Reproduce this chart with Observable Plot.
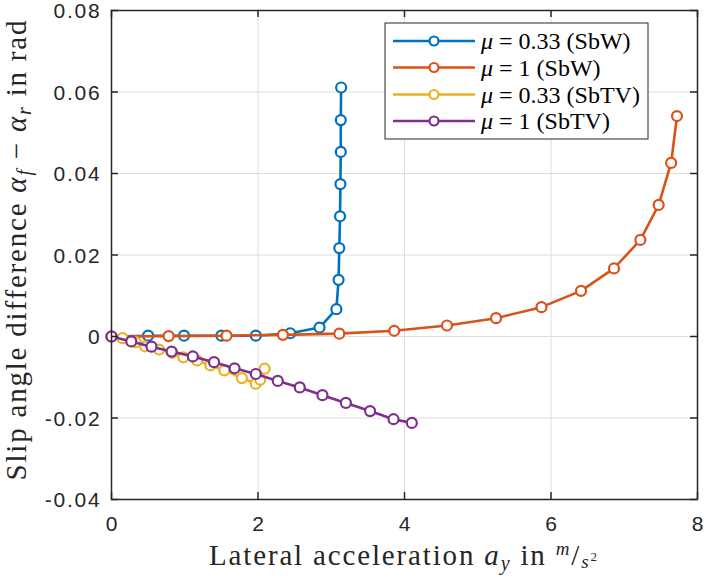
<!DOCTYPE html>
<html><head><meta charset="utf-8">
<script src="https://cdn.jsdelivr.net/npm/d3@7"></script>
<script src="https://cdn.jsdelivr.net/npm/@observablehq/plot@0.6"></script>
<style>
body{margin:0;background:#fff}
#chart{position:relative;width:704px;height:579px}
svg text.serif, svg text.serif tspan{font-family:"Liberation Serif","Times New Roman",serif !important}
svg g[aria-label="x-axis tick label"] text, svg g[aria-label="y-axis tick label"] text{letter-spacing:1.8px}
</style>
</head><body><div id="chart"></div>
<script>
// ---- data ----
const seriesLabels = ["0.33 (SbW)", "1 (SbW)", "0.33 (SbTV)", "1 (SbTV)"];
const seriesColors = ["#0072BD", "#D95319", "#EDB120", "#7E2F8E"];

const sbw033X = [0, 0.50, 0.99, 1.50, 1.97, 2.44, 2.84, 3.07, 3.10, 3.11, 3.12, 3.125, 3.13, 3.13, 3.135];
const sbw033Y = [0, 0.0002, 0.0002, 0.0002, 0.0002, 0.0008, 0.0022, 0.0067, 0.0139, 0.0217, 0.0295, 0.0374, 0.0453, 0.0531, 0.0611];

const sbw1X = [0, 0.78, 1.57, 2.34, 3.11, 3.86, 4.58, 5.25, 5.87, 6.41, 6.86, 7.22, 7.47, 7.64, 7.72];
const sbw1Y = [0, 0.0001, 0.0002, 0.0004, 0.0007, 0.0014, 0.0027, 0.0045, 0.0072, 0.0112, 0.0167, 0.0237, 0.0323, 0.0426, 0.0541];

const sbtv033X = [0, 0.15, 0.33, 0.46, 0.65, 0.83, 0.98, 1.17, 1.35, 1.54, 1.78, 1.97, 2.03, 2.09];
const sbtv033Y = [0, -0.0004, -0.0014, -0.0024, -0.0032, -0.0040, -0.0051, -0.0059, -0.0071, -0.0083, -0.0102, -0.0116, -0.0106, -0.0079];

const sbtv1X = [0, 0.27, 0.546, 0.82, 1.11, 1.40, 1.68, 1.97, 2.27, 2.57, 2.88, 3.20, 3.53, 3.85, 4.10];
const sbtv1Y = [0, -0.0012, -0.0025, -0.0037, -0.0049, -0.0063, -0.0078, -0.0092, -0.0109, -0.0125, -0.0144, -0.0163, -0.0183, -0.0203, -0.0212];

const xTicks = [0, 2, 4, 6, 8];
const yTicks = [-0.04, -0.02, 0, 0.02, 0.04, 0.06, 0.08];
const yTickLabels = ["-0.04", "-0.02", "0", "0.02", "0.04", "0.06", "0.08"];

// ---- build ----
const seriesX = [sbw033X, sbw1X, sbtv033X, sbtv1X];
const seriesY = [sbw033Y, sbw1Y, sbtv033Y, sbtv1Y];
const series = seriesX.map((xs, i) => xs.map((x, j) => ({x, y: seriesY[i][j], s: i})));

const W = 704, H = 579, mL = 111, mR = 7, mT = 10, mB = 80;
const innerH = H - mT - mB, innerW = W - mL - mR;
const tickLen = 7;
const axisColor = "#262626";
const lineW = 2.6, dotR = 5, dotSW = 2.2;

const marks = [
  Plot.gridX(xTicks, {stroke: "#dedede", strokeOpacity: 1, strokeWidth: 1}),
  Plot.gridY(yTicks, {stroke: "#dedede", strokeOpacity: 1, strokeWidth: 1}),
];
series.forEach((rows, i) => {
  marks.push(Plot.line(rows, {x: "x", y: "y", stroke: seriesColors[i], strokeWidth: lineW}));
  marks.push(Plot.dot(rows, {x: "x", y: "y", r: dotR, stroke: seriesColors[i], strokeWidth: dotSW, fill: "white"}));
});
marks.push(
  Plot.tickX(xTicks, {x: d => d, insetTop: innerH - tickLen, stroke: axisColor, strokeWidth: 1.5}),
  Plot.tickX(xTicks, {x: d => d, insetBottom: innerH - tickLen, stroke: axisColor, strokeWidth: 1.5}),
  Plot.tickY(yTicks, {y: d => d, insetRight: innerW - tickLen, stroke: axisColor, strokeWidth: 1.5}),
  Plot.tickY(yTicks, {y: d => d, insetLeft: innerW - tickLen, stroke: axisColor, strokeWidth: 1.5}),
  Plot.frame({stroke: axisColor, strokeWidth: 1.5}),
  Plot.axisX(xTicks, {tickSize: 0, tickPadding: 17, label: null, fill: axisColor, dx: 1}),
  Plot.axisY(yTicks, {tickSize: 0, tickPadding: 10, label: null, fill: axisColor, dy: 1,
    tickFormat: d => yTickLabels[yTicks.indexOf(d)]})
);

const chart = Plot.plot({
  width: W, height: H,
  marginLeft: mL, marginRight: mR, marginTop: mT, marginBottom: mB,
  x: {domain: [0, 8]},
  y: {domain: [-0.04, 0.08]},
  style: {fontFamily: "'Liberation Sans', Arial, sans-serif", fontSize: "21px", color: axisColor, background: "white"},
  marks
});
document.getElementById("chart").appendChild(chart);

// ---- labels & legend (rich text) ----
const svg = d3.select(chart);
const serif = "Liberation Serif, Times New Roman, serif";
function styled(sel, size) {
  return sel.attr("class", "serif").attr("font-family", serif).style("font-size", size + "px");
}

// x label
const xl = styled(svg.append("text"), 29)
  .attr("x", mL + innerW / 2 - 1).attr("y", 565)
  .attr("textLength", 388).attr("lengthAdjust", "spacing")
  .style("text-anchor", "middle").attr("fill", axisColor);
xl.append("tspan").text("Lateral acceleration ");
xl.append("tspan").style("font-style", "italic").text("a");
xl.append("tspan").style("font-style", "italic").style("font-size", "20px").attr("dy", 5).text("y");
xl.append("tspan").attr("dy", -5).text(" in ");
xl.append("tspan").style("font-style", "italic").style("font-size", "19px").attr("dy", -10).text("m");
xl.append("tspan").attr("dy", 10).text("/");
xl.append("tspan").style("font-style", "italic").style("font-size", "19px").attr("dy", 3).text("s");
xl.append("tspan").style("font-size", "13px").attr("dy", -7).text("2");

// y label
const yl = styled(svg.append("text"), 29)
  .attr("transform", `translate(26,${mT + innerH / 2 - 4}) rotate(-90)`)
  .attr("textLength", 460).attr("lengthAdjust", "spacing")
  .style("text-anchor", "middle").attr("fill", axisColor);
yl.append("tspan").text("Slip angle difference ");
yl.append("tspan").style("font-style", "italic").text("α");
yl.append("tspan").style("font-style", "italic").style("font-size", "20px").attr("dy", 5).text("f");
yl.append("tspan").attr("dy", -5).text(" − ");
yl.append("tspan").style("font-style", "italic").text("α");
yl.append("tspan").style("font-style", "italic").style("font-size", "20px").attr("dy", 5).text("r");
yl.append("tspan").attr("dy", -5).text(" in rad");

// legend
const lg = svg.append("g");
const lx = 385, ly = 23, lw = 263, lh = 116;
lg.append("rect").attr("x", lx).attr("y", ly).attr("width", lw).attr("height", lh)
  .attr("fill", "white").attr("stroke", axisColor).attr("stroke-width", 1);
const rowY = [41, 67.5, 94.5, 121];
seriesLabels.forEach((lab, i) => {
  const y = rowY[i];
  lg.append("line").attr("x1", 393).attr("x2", 475).attr("y1", y).attr("y2", y)
    .attr("stroke", seriesColors[i]).attr("stroke-width", lineW);
  lg.append("circle").attr("cx", 434).attr("cy", y).attr("r", dotR - 0.5)
    .attr("fill", "white").attr("stroke", seriesColors[i]).attr("stroke-width", dotSW);
  const t = styled(lg.append("text"), 24).attr("x", 481).attr("y", y + 8)
    .style("text-anchor", "start").attr("fill", "#000");
  t.append("tspan").style("font-style", "italic").text("μ");
  t.append("tspan").text(" = " + lab);
});
</script>
</body></html>
